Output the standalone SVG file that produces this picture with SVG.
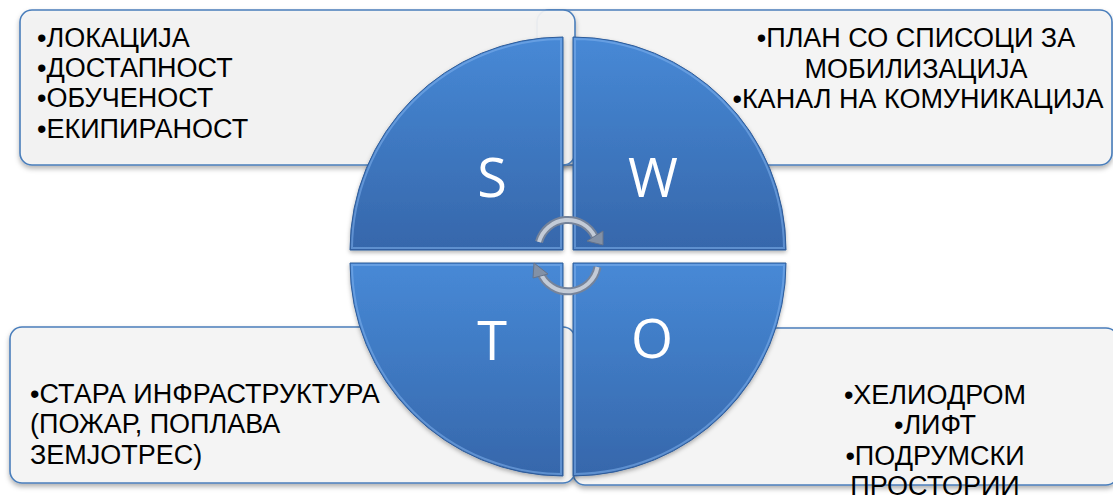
<svg xmlns="http://www.w3.org/2000/svg" width="1113" height="497" viewBox="0 0 1113 497">
<defs>
<style>
.box{fill:#f4f4f4;stroke:#4a7ebb;stroke-width:1.6}
.txt{font-family:"Liberation Sans",Arial,sans-serif;font-size:27px;fill:#000}
.q{stroke:#2f5c99;stroke-width:1}
.bev{fill:none;stroke:#7fb0ec;stroke-width:2;stroke-opacity:0.55}
.let{font-family:"Open Sans","Liberation Sans",sans-serif;font-size:54px;fill:#fff;text-anchor:middle}
.arr{fill:none;stroke:#75839a;stroke-width:8;stroke-linecap:butt}
.arrIn{fill:none;stroke:#c3cbd7;stroke-width:4}
</style>
<linearGradient id="g" x1="0" y1="0" x2="0" y2="1">
<stop offset="0" stop-color="#4789d6"/>
<stop offset="1" stop-color="#3667ab"/>
</linearGradient>
<filter id="sh" x="-5%" y="-10%" width="110%" height="130%">
<feDropShadow dx="0" dy="3" stdDeviation="2.5" flood-color="#000" flood-opacity="0.3"/>
</filter>
<filter id="qs" x="-10%" y="-10%" width="120%" height="120%">
<feDropShadow dx="0" dy="2" stdDeviation="2" flood-color="#000" flood-opacity="0.3"/>
</filter>
</defs>
<rect width="1113" height="497" fill="#fff"/>

<g id="box-w">
<rect class="box" x="537" y="10" width="575" height="155" rx="12" filter="url(#sh)"/>
<text class="txt" text-anchor="middle"><tspan x="916" y="47">•ПЛАН СО СПИСОЦИ ЗА</tspan><tspan x="916" y="78">МОБИЛИЗАЦИЈА</tspan><tspan x="918" y="108">•КАНАЛ НА КОМУНИКАЦИЈА</tspan></text>
</g>
<g id="box-s">
<rect class="box" x="20" y="10" width="555" height="155" rx="12" filter="url(#sh)" fill-opacity="0.92"/>
<text class="txt"><tspan x="37" y="47">•ЛОКАЦИЈА</tspan><tspan x="37" y="77">•ДОСТАПНОСТ</tspan><tspan x="37" y="107">•ОБУЧЕНОСТ</tspan><tspan x="37" y="138">•ЕКИПИРАНОСТ</tspan></text>
</g>
<g id="box-o">
<rect class="box" x="573" y="328" width="545" height="157" rx="12" filter="url(#sh)"/>
</g>
<g id="box-t">
<rect class="box" x="10" y="327" width="565" height="156" rx="12" filter="url(#sh)"/>
<text class="txt"><tspan x="30" y="403">•СТАРА ИНФРАСТРУКТУРА</tspan><tspan x="30" y="433">(ПОЖАР, ПОПЛАВА</tspan><tspan x="30" y="464">ЗЕМЈОТРЕС)</tspan></text>
</g>

<g id="quad-s">
<path class="q" d="M563 250 L350 250 A213 213 0 0 1 563 37 Z" fill="url(#g)" filter="url(#qs)"/>
<path class="bev" d="M561 248 L352 248 A211 211 0 0 1 561 39 Z"/>
<text class="let" x="492" y="197">S</text>
</g>
<g id="quad-w">
<path class="q" d="M573 250 L573 37 A213 213 0 0 1 786 250 Z" fill="url(#g)" filter="url(#qs)"/>
<path class="bev" d="M575 248 L575 39 A211 211 0 0 1 784 248 Z"/>
<text class="let" x="653" y="197">W</text>
</g>
<g id="quad-t">
<path class="q" d="M563 263 L563 476 A213 213 0 0 1 350 263 Z" fill="url(#g)" filter="url(#qs)"/>
<path class="bev" d="M561 265 L561 474 A211 211 0 0 1 352 265 Z"/>
<text class="let" x="492" y="360">T</text>
</g>
<g id="quad-o">
<path class="q" d="M573 263 L786 263 A213 213 0 0 1 573 476 Z" fill="url(#g)" filter="url(#qs)"/>
<path class="bev" d="M575 265 L784 265 A211 211 0 0 1 575 474 Z"/>
<text class="let" x="652" y="358">O</text>
</g>

<g id="box-o-text">
<text class="txt" text-anchor="middle"><tspan x="935" y="404">•ХЕЛИОДРОМ</tspan><tspan x="935" y="434">•ЛИФТ</tspan><tspan x="935" y="465">•ПОДРУМСКИ</tspan><tspan x="935" y="495">ПРОСТОРИИ</tspan></text>
</g>

<g id="connectors">
<path class="arr" d="M539 242 A30 30 0 0 1 595 237"/>
<path class="arrIn" d="M539 242 A30 30 0 0 1 595 237"/>
<polygon points="603,245 587,241 603,231" fill="#8391a6" stroke="#66748b" stroke-width="1"/>
<path class="arr" d="M597.5 267 A30 30 0 0 1 540 272"/>
<path class="arrIn" d="M597.5 267 A30 30 0 0 1 540 272"/>
<polygon points="534,263 533,278 548,274" fill="#8391a6" stroke="#66748b" stroke-width="1"/>
</g>
</svg>
